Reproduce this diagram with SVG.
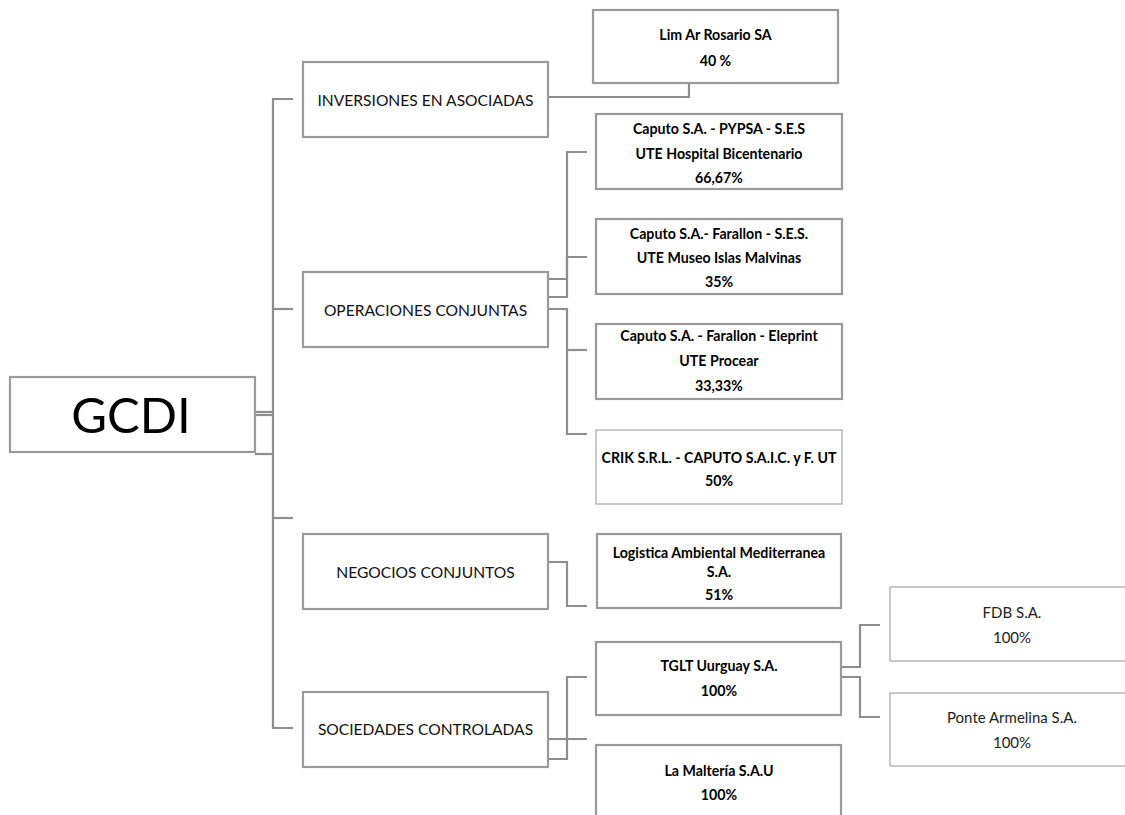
<svg xmlns="http://www.w3.org/2000/svg" width="1125" height="815" viewBox="0 0 1125 815">
<style>
.box{fill:#fff;stroke:#9a9a9a;stroke-width:2.2}
.thin{fill:#fff;stroke:#a6a6a6;stroke-width:1.2}
.ln{fill:none;stroke:#8e8e8e;stroke-width:2.2}
.cat{font-family:Lato,"Liberation Sans",sans-serif;font-size:15.6px;fill:#111;text-anchor:middle;dominant-baseline:central}
.b{font-family:Lato,"Liberation Sans",sans-serif;font-size:14.2px;font-weight:bold;fill:#000;text-anchor:middle;dominant-baseline:central}
.r{font-family:Lato,"Liberation Sans",sans-serif;font-size:15px;fill:#222;text-anchor:middle;dominant-baseline:central}
.big{font-family:Lato,"Liberation Sans",sans-serif;font-size:49px;fill:#000;text-anchor:middle;dominant-baseline:central}
</style>
<rect width="1125" height="815" fill="#fff"/>
<g id="connectors">
<path class="ln" d="M293 99 H273 V728 H293"/>
<path class="ln" d="M273 309 H293"/>
<path class="ln" d="M273 518 H293"/>
<path class="ln" d="M255 412 H273"/>
<path class="ln" d="M255 415 H273"/>
<path class="ln" d="M255 454 H273"/>
<path class="ln" d="M548 97 H689 V83"/>
<path class="ln" d="M548 279 H567 V152 H587"/>
<path class="ln" d="M548 297 H567 V257 H587"/>
<path class="ln" d="M548 309 H567 V434 H587"/>
<path class="ln" d="M567 350 H587"/>
<path class="ln" d="M548 562 H567 V606 H587"/>
<path class="ln" d="M548 759 H567 V677 H587"/>
<path class="ln" d="M548 739 H587"/>
<path class="ln" d="M841 667 H860 V625 H880"/>
<path class="ln" d="M841 677 H860 V717 H880"/>
</g>
<g id="gcdi">
<rect class="box" x="10" y="377" width="245" height="75"/>
<text class="big" x="131" y="414">GCDI</text>
</g>
<g id="inversiones">
<rect class="box" x="303" y="62" width="245" height="75"/>
<text class="cat" x="425.5" y="100">INVERSIONES EN ASOCIADAS</text>
</g>
<g id="operaciones">
<rect class="box" x="303" y="272" width="245" height="75"/>
<text class="cat" x="425.5" y="310">OPERACIONES CONJUNTAS</text>
</g>
<g id="negocios">
<rect class="box" x="303" y="534" width="245" height="75"/>
<text class="cat" x="425.5" y="572">NEGOCIOS CONJUNTOS</text>
</g>
<g id="sociedades">
<rect class="box" x="303" y="692" width="245" height="75"/>
<text class="cat" x="425.5" y="729">SOCIEDADES CONTROLADAS</text>
</g>
<g id="limar">
<rect class="box" x="593" y="10" width="245" height="73"/>
<text class="b" x="715.5" y="34">Lim Ar Rosario SA</text>
<text class="b" x="715.5" y="60">40 %</text>
</g>
<g id="caputo1">
<rect class="box" x="596" y="114" width="246" height="75"/>
<text class="b" x="719" y="128">Caputo S.A. - PYPSA - S.E.S</text>
<text class="b" x="719" y="153">UTE Hospital Bicentenario</text>
<text class="b" x="719" y="177">66,67%</text>
</g>
<g id="caputo2">
<rect class="box" x="596" y="219" width="246" height="75"/>
<text class="b" x="719" y="233">Caputo S.A.- Farallon - S.E.S.</text>
<text class="b" x="719" y="257">UTE Museo Islas Malvinas</text>
<text class="b" x="719" y="281">35%</text>
</g>
<g id="caputo3">
<rect class="box" x="596" y="324" width="246" height="75"/>
<text class="b" x="719" y="335">Caputo S.A. - Farallon - Eleprint</text>
<text class="b" x="719" y="360">UTE Procear</text>
<text class="b" x="719" y="385">33,33%</text>
</g>
<g id="crik">
<rect class="thin" x="596" y="430" width="246" height="74"/>
<text class="b" x="719" y="457">CRIK S.R.L. - CAPUTO S.A.I.C. y F. UT</text>
<text class="b" x="719" y="480">50%</text>
</g>
<g id="logistica">
<rect class="box" x="597" y="534" width="244" height="74"/>
<text class="b" x="719" y="552">Logistica Ambiental Mediterranea</text>
<text class="b" x="719" y="571">S.A.</text>
<text class="b" x="719" y="594">51%</text>
</g>
<g id="tglt">
<rect class="box" x="596" y="642" width="245" height="73"/>
<text class="b" x="719" y="665">TGLT Uurguay S.A.</text>
<text class="b" x="719" y="690">100%</text>
</g>
<g id="malteria">
<rect class="box" x="596" y="745" width="245" height="90"/>
<text class="b" x="719" y="770">La Maltería S.A.U</text>
<text class="b" x="719" y="794">100%</text>
</g>
<g id="fdb">
<rect class="thin" x="890" y="587" width="244" height="74"/>
<text class="r" x="1012" y="612">FDB S.A.</text>
<text class="r" x="1012" y="637">100%</text>
</g>
<g id="ponte">
<rect class="thin" x="890" y="693" width="244" height="73"/>
<text class="r" x="1012" y="717">Ponte Armelina S.A.</text>
<text class="r" x="1012" y="742">100%</text>
</g>
</svg>
